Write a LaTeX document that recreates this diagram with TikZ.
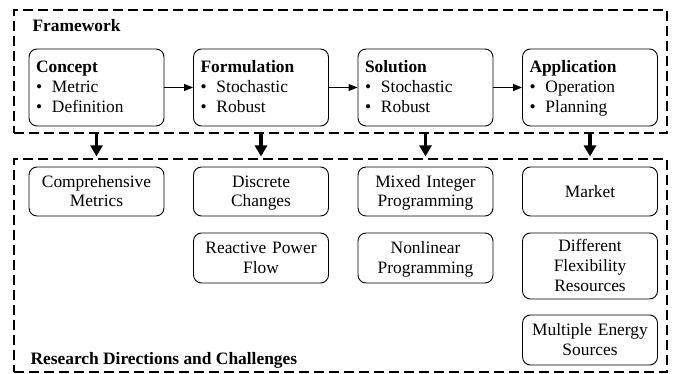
\documentclass[tikz,border=0pt]{standalone}
\usepackage{fontspec}
\setmainfont{Liberation Serif}
\usetikzlibrary{arrows.meta}
\begin{document}
\begin{tikzpicture}[x=1pt,y=-1pt,
  every node/.style={font=\fontsize{17.4}{20}\selectfont},
  frame/.style={draw,dashed,dash pattern=on 10pt off 5pt,line width=1.1pt,rectangle,inner sep=0pt},
  topbox/.style={draw,rounded corners=8pt,line width=0.9pt,minimum width=135pt,minimum height=77pt,text width=121pt,align=left,inner sep=0pt},
  botbox/.style={draw,rounded corners=8pt,line width=0.9pt,minimum width=135pt,text width=125pt,align=center,inner sep=0pt},
  thinarrow/.style={line width=0.9pt,-{Triangle[length=9pt,width=7pt]}},
  thickarrow/.style={line width=3.5pt,-{Triangle[length=11pt,width=12pt]}}]
\useasboundingbox (0,0) rectangle (674,374);
\newcommand{\st}{\rule[-4.5pt]{0pt}{20pt}}
\newcommand{\bl}{\st\makebox[16pt][l]{\textbullet}}
\node[frame,minimum width=653pt,minimum height=123pt] (fw) at (340.5,71.5) {};
\node[frame,minimum width=653pt,minimum height=213pt] (rd) at (340.5,265.5) {};
\node[anchor=base west,font=\fontsize{17.4}{20}\selectfont\bfseries] (fwl) at (29,32) {Framework};
\node[anchor=base west,font=\fontsize{17.4}{20}\selectfont\bfseries] (rdl) at (27,364) {Research Directions and Challenges};
\node[topbox] (c1) at (96.5,87.5) {\st\textbf{Concept}\\ \bl Metric\\ \bl Definition};
\node[topbox] (c2) at (261,87.5) {\st\textbf{Formulation}\\ \bl Stochastic\\ \bl Robust};
\node[topbox] (c3) at (425.5,87.5) {\st\textbf{Solution}\\ \bl Stochastic\\ \bl Robust};
\node[topbox] (c4) at (590,87.5) {\st\textbf{Application}\\ \bl Operation\\ \bl Planning};
\draw[thinarrow] (c1) -- (c2);
\draw[thinarrow] (c2) -- (c3);
\draw[thinarrow] (c3) -- (c4);
\foreach \c in {c1,c2,c3,c4}{
  \draw[thickarrow] (fw.south -| \c) -- ([yshift=2pt]rd.north -| \c);
}
\node[botbox,minimum height=49pt] (b1) at (96.5,191.5) {\st Comprehensive\\\st Metrics};
\node[botbox,minimum height=49pt] (b2) at (261,191.5) {\st Discrete\\\st Changes};
\node[botbox,minimum height=50pt] (b3) at (261,258) {\st Reactive Power\\\st Flow};
\node[botbox,minimum height=49pt] (b4) at (425.5,191.5) {\st Mixed Integer\\\st Programming};
\node[botbox,minimum height=50pt] (b5) at (425.5,258) {\st Nonlinear\\\st Programming};
\node[botbox,minimum height=49pt] (b6) at (590,191.5) {\st Market};
\node[botbox,minimum height=66pt] (b7) at (590,266) {\st Different\\\st Flexibility\\\st Resources};
\node[botbox,minimum height=50pt] (b8) at (590,340) {\st Multiple Energy\\\st Sources};
\end{tikzpicture}
\end{document}
